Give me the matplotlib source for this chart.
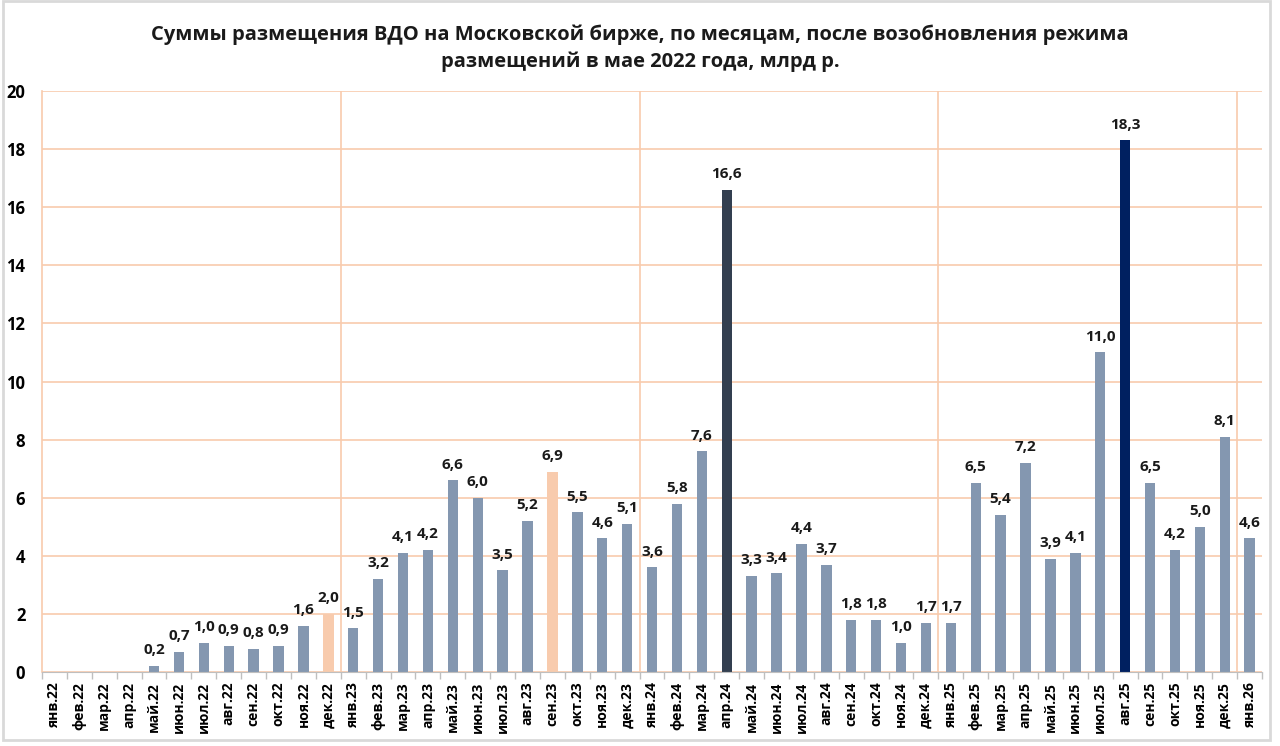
import matplotlib.pyplot as plt
from matplotlib.patches import Rectangle

plt.rcParams['font.family'] = ['Open Sans', 'DejaVu Sans']

# Monthly placement amounts, bn rub
months = ['янв.22', 'фев.22', 'мар.22', 'апр.22', 'май.22', 'июн.22', 'июл.22', 'авг.22',
          'сен.22', 'окт.22', 'ноя.22', 'дек.22',
          'янв.23', 'фев.23', 'мар.23', 'апр.23', 'май.23', 'июн.23', 'июл.23', 'авг.23',
          'сен.23', 'окт.23', 'ноя.23', 'дек.23',
          'янв.24', 'фев.24', 'мар.24', 'апр.24', 'май.24', 'июн.24', 'июл.24', 'авг.24',
          'сен.24', 'окт.24', 'ноя.24', 'дек.24',
          'янв.25', 'фев.25', 'мар.25', 'апр.25', 'май.25', 'июн.25', 'июл.25', 'авг.25',
          'сен.25', 'окт.25', 'ноя.25', 'дек.25',
          'янв.26']
values = [0, 0, 0, 0, 0.2, 0.7, 1.0, 0.9, 0.8, 0.9, 1.6, 2.0,
          1.5, 3.2, 4.1, 4.2, 6.6, 6.0, 3.5, 5.2, 6.9, 5.5, 4.6, 5.1,
          3.6, 5.8, 7.6, 16.6, 3.3, 3.4, 4.4, 3.7, 1.8, 1.8, 1.0, 1.7,
          1.7, 6.5, 5.4, 7.2, 3.9, 4.1, 11.0, 18.3, 6.5, 4.2, 5.0, 8.1,
          4.6]
highlight = {'дек.22': '#F8CBAD', 'сен.23': '#F8CBAD', 'апр.24': '#333F50', 'авг.25': '#002060'}
year_breaks = [11.5, 23.5, 35.5, 47.5]

base_color = '#8497B0'
grid_color = '#F8CBAD'
colors = [highlight.get(m, base_color) for m in months]

fig = plt.figure(figsize=(12.8, 7.46), dpi=100)
ax = fig.add_axes([0.0328, 0.0992, 0.9532, 0.7788])

x = list(range(len(months)))
ax.bar(x, values, width=0.42, color=colors, zorder=3)

for xi, v in zip(x, values):
    if v > 0:
        ax.text(xi, v + 0.3, f'{v:.1f}'.replace('.', ','), ha='center', va='bottom',
                fontsize=11, fontweight='bold', color='#1a1a1a', zorder=4)

ax.set_xlim(-0.5, len(months) - 0.5)
ax.set_ylim(0, 20)
ax.set_yticks(range(0, 21, 2))
ax.yaxis.grid(True, color=grid_color, linewidth=1.2, zorder=0)
for b in year_breaks:
    ax.axvline(b, color=grid_color, linewidth=1.2, zorder=0)

ax.set_xticks(x)
ax.set_xticklabels(months, rotation=90, fontsize=10, fontweight='bold')
ax.set_xticks([i + 0.5 for i in range(-1, len(months))], minor=True)
ax.tick_params(axis='x', which='major', length=0, pad=7)
ax.tick_params(axis='x', which='minor', length=5, color='#BFBFBF', width=1)
ax.tick_params(axis='y', length=0, labelsize=12, pad=12)
for lbl in ax.get_yticklabels():
    lbl.set_fontweight('bold')

for side in ['top', 'right']:
    ax.spines[side].set_visible(False)
ax.spines['left'].set_color(grid_color)
ax.spines['left'].set_linewidth(1.2)
ax.spines['bottom'].set_color('#BFBFBF')
ax.spines['bottom'].set_zorder(5)

fig.text(0.5, 0.935, 'Суммы размещения ВДО на Московской бирже, по месяцам, после возобновления режима\n'
         'размещений в мае 2022 года, млрд р.', ha='center', va='center',
         fontsize=14.5, fontweight='bold', linespacing=1.45, color='#1a1a1a')

fig.patches.append(Rectangle((0.002, 0.008), 0.99, 0.99, transform=fig.transFigure,
                             fill=False, edgecolor='#D9D9D9', linewidth=2))

fig.savefig('out.png', dpi=100)
